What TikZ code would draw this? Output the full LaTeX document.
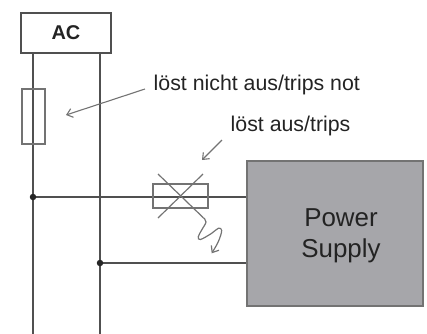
\documentclass[tikz,border=0pt]{standalone}
\usepackage{fontspec}
\setmainfont{Liberation Sans}
\usetikzlibrary{arrows.meta,backgrounds}
\definecolor{wirec}{RGB}{80,80,80}
\definecolor{partc}{RGB}{115,115,115}
\definecolor{psfill}{RGB}{166,166,170}
\definecolor{txtc}{RGB}{35,35,35}
\tikzset{
  wire/.style={draw=wirec, line width=1.5bp},
  partline/.style={draw=partc, line width=1.2bp},
  pointer/.style={draw=partc, line width=1.1bp, -{Straight Barb[length=5.5bp,width=9bp]}},
  lbl/.style={inner sep=0pt, text=txtc, font=\fontsize{21.4}{25}\selectfont, anchor=base west},
  dot/.style={circle, fill=black!85, inner sep=0pt, minimum size=6.5bp},
}
\begin{document}
\begin{tikzpicture}[x=1bp,y=-1bp]
\useasboundingbox (0,0) rectangle (427,334);
% AC box
\node[draw=wirec, line width=1.3bp, fill=white, minimum width=90bp, minimum height=40bp, inner sep=0pt,
      text=txtc, font=\bfseries\fontsize{20}{24}\selectfont] (ac) at (66,33) {AC};
\coordinate (l1top) at (33,53);
\coordinate (l2top) at (100,53);
\coordinate (l1bot) at (33,334);
\coordinate (l2bot) at (100,334);
% power supply
\node[draw=partc, line width=1.2bp, fill=psfill, minimum width=176bp, minimum height=145bp, inner sep=0pt] (ps) at (335,233.5) {};
\node[inner sep=0pt, text=txtc, align=center, font=\fontsize{26}{31}\selectfont] (pstext) at (341,236) {Power\\Supply};
% junctions
\node[dot] (j1) at (33,197) {};
\node[dot] (j2) at (100,263) {};
\coordinate (ps1) at (247,197);
\coordinate (ps2) at (247,263);
% fuse
\node[partline, minimum width=23bp, minimum height=55bp, inner sep=0pt] (fuse) at (33.5,116.5) {};
% breaker
\node[partline, minimum width=55bp, minimum height=24bp, inner sep=0pt] (brk) at (180.5,196) {};
% wires behind
\begin{scope}[on background layer]
\draw[wire] (l1top) -- (l1bot);
\draw[wire] (l2top) -- (l2bot);
\draw[wire] (j1.center) -- (ps1);
\draw[wire] (j2.center) -- (ps2);
\end{scope}
\coordinate (c1) at (158,174);
\coordinate (c2) at (203.3,217.7);
\coordinate (c3) at (158,218);
\coordinate (c4) at (203,174);
\draw[partline] (c1) -- (c2);
\draw[partline] (c3) -- (c4);
\draw[partline, -{Straight Barb[length=5.5bp,width=9bp]}] plot[smooth, tension=0.6] coordinates {(203.3,217.7) (206,222) (201.7,230) (198.3,236.7) (200.5,239.5) (211.7,233.3) (218.3,228.3) (221.7,230.5) (218.3,241.7) (211.7,253.3)};
% labels
\node[lbl] (t1) at (153.5,90) {löst nicht aus/trips not};
\node[lbl] (t2) at (230.5,131) {löst aus/trips};
\coordinate (a1s) at (145,89);
\coordinate (a1e) at (66,115);
\coordinate (a2s) at (222,140);
\coordinate (a2e) at (202,160);
\draw[pointer] (a1s) -- (a1e);
\draw[pointer] (a2s) -- (a2e);
\end{tikzpicture}
\end{document}
